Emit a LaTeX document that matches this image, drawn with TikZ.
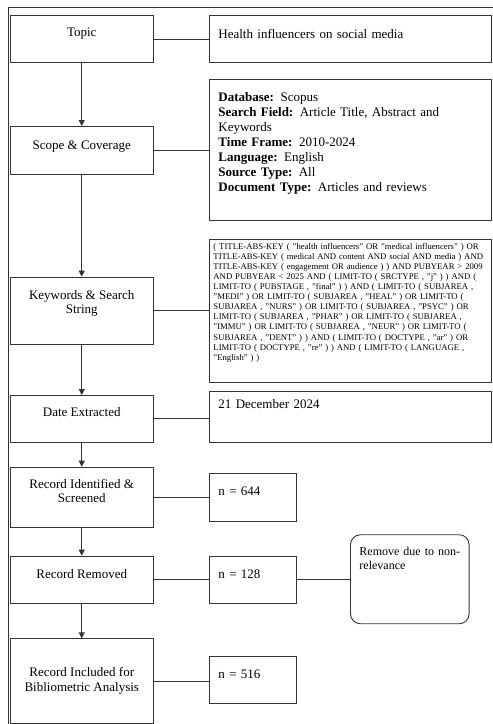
\documentclass[tikz,border=0pt]{standalone}
\usepackage{fontspec}
\setmainfont{Liberation Serif}
\usepackage{tikz}
\usetikzlibrary{arrows.meta,positioning}
\definecolor{clLine}{HTML}{333333}
\tikzset{
  box/.style={rectangle, draw=clLine, line width=0.9pt, inner ysep=0pt,
              font=\fontsize{13}{14.6}\selectfont},
  stage/.style={box, anchor=north, minimum width=142.5pt, align=center, inner xsep=2pt},
  info/.style={box, anchor=north west, text width=264pt, inner xsep=9pt, align=left,
               font=\fontsize{13}{15}\selectfont},
  query/.style={box, anchor=north west, text width=274pt, inner xsep=4pt, align=left,
                font=\fontsize{8.7}{10.1}\selectfont},
  count/.style={box, anchor=north west, text width=69pt, inner xsep=9pt, align=left},
  note/.style={box, anchor=north west, rounded corners=10pt, text width=100.7pt,
               inner xsep=9pt, align=left, font=\fontsize{12}{14}\selectfont},
  flow/.style={-{Triangle[length=6pt,width=6pt]}, draw=clLine, line width=0.9pt},
  link/.style={draw=clLine, line width=0.9pt},
}

\begin{document}
\begin{tikzpicture}[x=1pt, y=-1pt]
  \useasboundingbox (0,0) rectangle (493,724);
  % outer frame
  \draw[link] (8.5,724) |- (493,7.5);
  % stages
  \node[stage, text height=21.5pt, text depth=25.5pt] (topic) at (81.75,15) {Topic};
  \node[stage, text height=23.5pt, text depth=24.5pt] (scope) at (81.75,126) {Scope \& Coverage};
  \node[stage, text height=36.6pt, text depth=30.7pt] (keywords) at (81.75,276.7) {Keywords \& Search\\String};
  \node[stage, text height=21pt, text depth=25.7pt] (date) at (81.75,395) {Date Extracted};
  \node[stage, text height=35.6pt, text depth=24.4pt] (identified) at (81.75,466.7) {Record Identified \&\\Screened};
  \node[stage, text height=22pt, text depth=25pt] (removed) at (81.75,555.7) {Record Removed};
  \node[stage, text height=52.6pt, text depth=31.8pt] (included) at (81.75,638.3) {Record Included for\\Bibliometric Analysis};
  % details
  \node[info, text height=22.6pt, text depth=24.4pt] (health) at (209,15) {Health influencers on social media};
  \node[info, text height=22pt, text depth=119pt] (coverage) at (209,79) {\textbf{Database:} Scopus\\
    \textbf{Search Field:} Article Title, Abstract and\\
    Keywords\\
    \textbf{Time Frame:} 2010-2024\\
    \textbf{Language:} English\\
    \textbf{Source Type:} All\\
    \textbf{Document Type:} Articles and reviews};
  \node[query, text height=9.4pt, text depth=133pt] (string) at (209,239.3) {( TITLE-ABS-KEY ( "health influencers" OR "medical influencers" ) OR\\
    TITLE-ABS-KEY ( medical AND content AND social AND media ) AND\\
    TITLE-ABS-KEY ( engagement OR audience ) ) AND PUBYEAR > 2009\\
    AND PUBYEAR < 2025 AND ( LIMIT-TO ( SRCTYPE , "j" ) ) AND (\\
    LIMIT-TO ( PUBSTAGE , "final" ) ) AND ( LIMIT-TO ( SUBJAREA ,\\
    "MEDI" ) OR LIMIT-TO ( SUBJAREA , "HEAL" ) OR LIMIT-TO (\\
    SUBJAREA , "NURS" ) OR LIMIT-TO ( SUBJAREA , "PSYC" ) OR\\
    LIMIT-TO ( SUBJAREA , "PHAR" ) OR LIMIT-TO ( SUBJAREA ,\\
    "IMMU" ) OR LIMIT-TO ( SUBJAREA , "NEUR" ) OR LIMIT-TO (\\
    SUBJAREA , "DENT" ) ) AND ( LIMIT-TO ( DOCTYPE , "ar" ) OR\\
    LIMIT-TO ( DOCTYPE , "re" ) ) AND ( LIMIT-TO ( LANGUAGE ,\\
    "English" ) )};
  \node[info, text height=17.3pt, text depth=33.4pt] (extracted) at (209,391) {21 December 2024};
  \node[count, text height=22pt, text depth=25.4pt] (n644) at (209,473.3) {n = 644};
  \node[count, text height=22pt, text depth=25pt] (n128) at (209,555.7) {n = 128};
  \node[count, text height=21.6pt, text depth=25.7pt] (n516) at (209,656) {n = 516};
  \node[note, text height=20.7pt, text depth=68.3pt] (irrelevant) at (350,534.3) {Remove due to non-\\relevance};
  % flow between stages
  \draw[flow] (topic.south) -- (scope.north);
  \draw[flow] (scope.south) -- (keywords.north);
  \draw[flow] (keywords.south) -- (date.north);
  \draw[flow] (date.south) -- (identified.north);
  \draw[flow] (identified.south) -- (removed.north);
  \draw[flow] (removed.south) -- (included.north);
  % links to details
  \draw[link] (topic.east) -- (topic.east -| health.west);
  \draw[link] (scope.east) -- (scope.east -| coverage.west);
  \draw[link] (keywords.east) -- (keywords.east -| string.west);
  \draw[link] (date.east) -- (date.east -| extracted.west);
  \draw[link] (identified.east) -- (identified.east -| n644.west);
  \draw[link] (removed.east) -- (removed.east -| n128.west);
  \draw[link] (included.east) -- (included.east -| n516.west);
  \draw[link] (n128.east) -- (n128.east -| irrelevant.west);
\end{tikzpicture}
\end{document}
